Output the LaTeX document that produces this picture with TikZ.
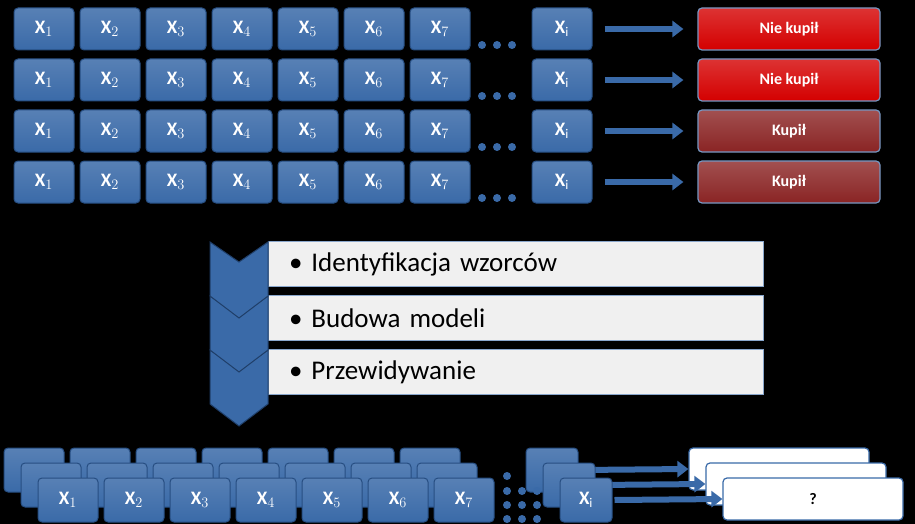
\documentclass[tikz,border=0pt]{standalone}
\usepackage{fontspec}
\setmainfont{Carlito}
\usetikzlibrary{arrows.meta,shadings}
\definecolor{xblue}{HTML}{3A6AA8}
\definecolor{xbluedark}{HTML}{274E82}
\definecolor{nred}{HTML}{D40000}
\definecolor{kred}{HTML}{8A2424}
\tikzset{
  xbox/.style={draw=xbluedark,line width=1pt,rounded corners=4pt,top color=xblue!85!white,bottom color=xblue,
    minimum width=60pt,minimum height=42pt,inner sep=0pt,text=white,font=\bfseries\fontsize{19}{20}\selectfont},
  outbox/.style={draw=xblue!70!white,line width=1.2pt,rounded corners=4pt,minimum width=182pt,minimum height=42pt,
    inner sep=0pt,text=white,font=\bfseries\fontsize{16}{18}\selectfont},
  flowarrow/.style={line width=6pt,draw=xblue,-{Triangle[length=11pt,width=16pt]}},
  dotc/.style={fill=xblue,circle,inner sep=0pt,minimum size=8pt},
  stepbar/.style={draw=xblue!60!white,line width=1pt,fill=gray!12,minimum width=495pt,minimum height=45pt,
    anchor=west,inner sep=0pt,text width=490pt,font=\fontsize{27}{30}\selectfont},
  chev/.style={fill=xblue,draw=xbluedark!80!black,line width=1pt}
}
\begin{document}
\begin{tikzpicture}[x=1pt,y=-1pt]
\fill[black] (0,0) rectangle (915,524);
\useasboundingbox (0,0) rectangle (915,524);
% rows of known cases
\foreach \r/\lab/\col in {0/Nie kupił/nred,1/Nie kupił/nred,2/Kupił/kred,3/Kupił/kred}{
  \foreach \c in {1,...,7}
    \node[xbox] (x\r\c) at ({44+66*(\c-1)},{29+51*\r}) {X$_{\c}$};
  \node[xbox] (x\r i) at (562,{29+51*\r}) {X$_{\mathrm i}$};
  \foreach \d in {0,1,2}
    \node[dotc] (d\r\d) at ({482+15*\d},{45+51*\r}) {};
  \node[outbox,top color=\col!80!white,bottom color=\col] (out\r) at (789,{29+51*\r}) {\lab};
  \draw[flowarrow] ([xshift=12pt]x\r i.east) -- ([xshift=-14pt]out\r.west);
}
% steps
\foreach \s/\txt in {0/Identyfikacja wzorców,1/Budowa modeli,2/Przewidywanie}
  \node[stepbar] (s\s) at (268,{264+54*\s}) {\hspace*{18pt}\textbullet\ \txt};
\foreach \s in {2,1,0}
  \filldraw[chev] (210,{242+54*\s}) -- (239,{262+54*\s}) -- (268,{242+54*\s}) -- (268,{296+54*\s})
    -- (239,{318+54*\s}) -- (210,{296+54*\s}) -- cycle;
% new cases, stacked
\foreach \l/\dx/\dy in {0/0/0,1/17/15,2/34/30}{
  \foreach \c in {1,...,7}
    \node[xbox,minimum width=60pt,minimum height=44pt] (y\l\c) at ({34+\dx+66*(\c-1)},{470+\dy}) {\ifnum\l=2 X$_{\c}$\fi};
  \node[xbox,minimum width=52pt,minimum height=44pt] (y\l i) at ({552+\dx},{470+\dy}) {\ifnum\l=2 X$_{\mathrm i}$\fi};
  \node[outbox,draw=xblue,fill=white,text=black,minimum width=180pt] (q\l) at ({779+\dx},{469+\dy}) {\ifnum\l=2 ?\fi};
  \draw[flowarrow] ([xshift=2pt]y\l i.east) -- (q\l.west);
}
\foreach \d in {0,1,2}{
  \node[dotc] (e0\d) at ({507+15*\d},491) {};
  \node[dotc] (e1\d) at ({507+15*\d},505) {};
}
\node[dotc] (e2) at (507,476) {};
\node[dotc] (e3) at (507,519) {};
\node[dotc] (e4) at (522,519) {};
\node[dotc] (e5) at (537,519) {};
\end{tikzpicture}
\end{document}
